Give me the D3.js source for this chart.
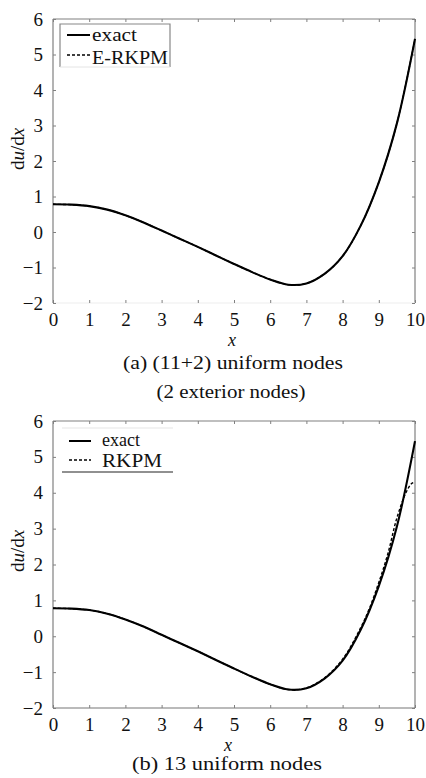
<!DOCTYPE html>
<html><head><meta charset="utf-8">
<script src="https://cdn.jsdelivr.net/npm/d3@7"></script>
<style>
html,body{margin:0;padding:0;background:#fff;}
svg{display:block;}
</style></head>
<body>
<svg id="c" width="426" height="778"></svg>
<script>
// ---- data ----
const xTicks = [0,1,2,3,4,5,6,7,8,9,10];
const yTicks = [-2,-1,0,1,2,3,4,5,6];
const xs      = [0,0.5,1,1.5,2,2.5,3,3.5,4,4.5,5,5.5,6,6.5,7,7.5,8,8.5,9,9.5,10];
const exactDu = [0.78,0.77,0.73,0.63,0.47,0.27,0.04,-0.19,-0.42,-0.66,-0.90,-1.13,-1.34,-1.485,-1.45,-1.18,-0.68,0.18,1.40,3.06,5.44];
const eRkpmDu = [0.78,0.77,0.73,0.63,0.47,0.27,0.04,-0.19,-0.42,-0.66,-0.90,-1.13,-1.34,-1.485,-1.45,-1.18,-0.68,0.18,1.40,3.06,5.44];
const xsR     = [0,0.5,1,1.5,2,2.5,3,3.5,4,4.5,5,5.5,6,6.5,7,7.5,8,8.5,8.75,9,9.25,9.5,9.75,9.9,10];
const rkpmDu  = [0.78,0.77,0.73,0.63,0.47,0.27,0.04,-0.19,-0.42,-0.66,-0.90,-1.13,-1.34,-1.485,-1.44,-1.16,-0.64,0.24,0.8,1.5,2.3,3.3,4.0,4.25,4.3];

const panels = [
  {top:19, bottom:303, legend:["exact","E-RKPM"], series:[[xs,exactDu,false],[xs,eRkpmDu,true]],
   captions:[["(a) (11+2) uniform nodes",369,220,233],["(2 exterior nodes)",398,149,231]],
   bottomLine:"#eeeeee", boxed:true, ylabY:149, xlabX:232},
  {top:421, bottom:708, legend:["exact","RKPM"], series:[[xs,exactDu,false],[xsR,rkpmDu,true]],
   captions:[["(b) 13 uniform nodes",770,190,227]], bottomLine:"#777", boxed:false, ylabY:551, xlabX:228}
];

const svg = d3.select("#c");
const L = 53, R = 415;
const axisCol = "#808080";
const SERIF = "Liberation Serif";

panels.forEach(p => {
  const x = d3.scaleLinear().domain([0,10]).range([L,R]);
  const y = d3.scaleLinear().domain([-2,6]).range([p.bottom,p.top]);
  const g = svg.append("g");

  // frame lines
  g.append("line").attr("x1",L).attr("x2",R).attr("y1",p.top).attr("y2",p.top).attr("stroke",axisCol).attr("stroke-width",1.2);
  g.append("line").attr("x1",R).attr("x2",R).attr("y1",p.top).attr("y2",p.bottom).attr("stroke",axisCol).attr("stroke-width",1.2);
  g.append("line").attr("x1",L).attr("x2",L).attr("y1",p.top).attr("y2",p.bottom).attr("stroke",axisCol).attr("stroke-width",1.2);
  g.append("line").attr("x1",L).attr("x2",R).attr("y1",p.bottom).attr("y2",p.bottom).attr("stroke",p.bottomLine).attr("stroke-width",1.2);

  // axes (inward ticks)
  const fmt = d => d < 0 ? "\u2212" + Math.abs(d) : String(d);
  const xb = g.append("g").attr("transform",`translate(0,${p.bottom})`)
    .call(d3.axisBottom(x).tickValues(xTicks).tickSize(-3).tickPadding(9).tickFormat(fmt));
  const xt = g.append("g").attr("transform",`translate(0,${p.top})`)
    .call(d3.axisTop(x).tickValues(xTicks).tickSize(-3).tickFormat(""));
  const yl = g.append("g").attr("transform",`translate(${L},0)`)
    .call(d3.axisLeft(y).tickValues(yTicks).tickSize(-3).tickPadding(10).tickFormat(fmt));
  const yr = g.append("g").attr("transform",`translate(${R},0)`)
    .call(d3.axisRight(y).tickValues(yTicks).tickSize(-3).tickFormat(""));
  [xb,xt,yl,yr].forEach(a => {
    a.attr("font-family",SERIF).attr("font-size",19);
    a.select(".domain").remove();
    a.selectAll("line").attr("stroke",axisCol);
    a.selectAll("text").attr("fill","#111").attr("font-family",SERIF);
  });
  xb.selectAll("text").attr("dy","0.72em");

  // curves
  p.series.forEach(([xv,yv,dashed]) => {
    const pts = xv.map((d,i)=>[d,yv[i]]);
    const line = d3.line().x(d=>x(d[0])).y(d=>y(d[1])).curve(d3.curveCatmullRom.alpha(0.5));
    g.append("path").attr("d",line(pts)).attr("fill","none").attr("stroke","#000")
      .attr("stroke-width", dashed ? 1.4 : 2.1)
      .attr("stroke-dasharray", dashed ? "3,2" : null);
  });

  // legend
  const lg = g.append("g");
  if (p.boxed) {
    lg.append("path").attr("d",`M60,67 V24 H170 V67`).attr("fill","none").attr("stroke","#888").attr("stroke-width",1.2);
    lg.append("line").attr("x1",60).attr("x2",170).attr("y1",67).attr("y2",67).attr("stroke","#e4e4e4");
  } else {
    lg.append("line").attr("x1",62).attr("x2",173).attr("y1",p.top+7).attr("y2",p.top+7).attr("stroke","#e6e6e6").attr("stroke-width",1.2);
    lg.append("line").attr("x1",62).attr("x2",173).attr("y1",p.top+51).attr("y2",p.top+51).attr("stroke","#222").attr("stroke-width",1.2);
  }
  const lx1 = p.boxed ? 67 : 69, lx2 = p.boxed ? 90 : 91, tx = p.boxed ? 92 : 102;
  const rows = p.boxed ? [35,55] : [p.top+20, p.top+39];
  const base = p.boxed ? [41,64] : [p.top+25, p.top+46];
  const widths = p.boxed ? [45,76] : [38,60];
  p.legend.forEach((name,i) => {
    lg.append("line").attr("x1",lx1).attr("x2",lx2).attr("y1",rows[i]).attr("y2",rows[i])
      .attr("stroke","#000").attr("stroke-width", i===0 ? 2 : 1.3).attr("stroke-dasharray", i===0 ? null : "3,2");
    lg.append("text").attr("x",tx).attr("y",base[i]).attr("font-family",SERIF).attr("font-size",19).attr("fill","#111")
      .attr("textLength",widths[i]).attr("lengthAdjust","spacingAndGlyphs").text(name);
  });

  // axis titles
  g.append("text").attr("x",p.xlabX).attr("y",p.bottom+43).attr("text-anchor","middle")
    .attr("font-family",SERIF).attr("font-size",18).attr("font-style","italic").attr("fill","#111").text("x");
  const yt = g.append("text").attr("transform",`translate(24,${p.ylabY}) rotate(-90)`)
    .attr("text-anchor","middle").attr("font-family",SERIF).attr("font-size",19).attr("fill","#111");
  yt.append("tspan").text("d");
  yt.append("tspan").attr("font-style","italic").text("u");
  yt.append("tspan").text("/d");
  yt.append("tspan").attr("font-style","italic").text("x");

  // captions
  p.captions.forEach(([c,yy,w,cx]) => {
    g.append("text").attr("x",cx - w/2).attr("y",yy)
      .attr("font-family",SERIF).attr("font-size",18).attr("fill","#111")
      .attr("textLength",w).attr("lengthAdjust","spacingAndGlyphs").text(c);
  });
});
</script>
</body></html>
